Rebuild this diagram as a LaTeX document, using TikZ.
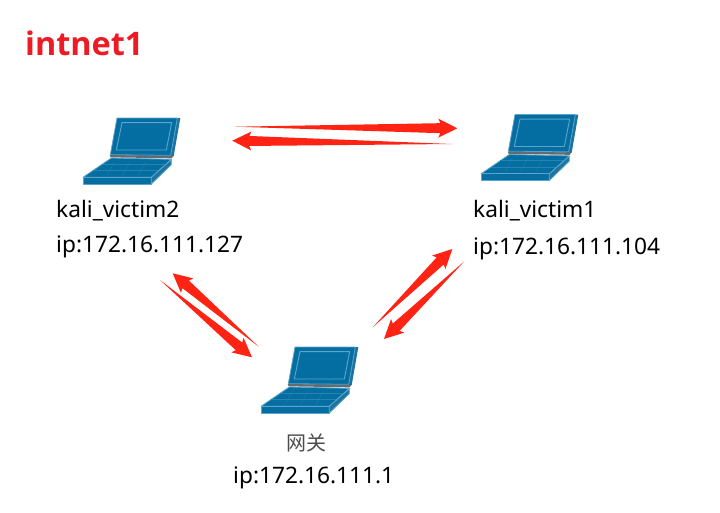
\documentclass[tikz,border=0pt]{standalone}
\usepackage{fontspec}
\setmainfont{Noto Sans}
\newfontfamily\cjkfont{Noto Sans CJK SC}
\newfontfamily\titlefont{Open Sans}
\usetikzlibrary{calc}
\definecolor{lapblue}{RGB}{4,110,162}
\definecolor{lapdark}{RGB}{30,115,160}
\definecolor{lapline}{RGB}{92,165,200}
\definecolor{hinge}{RGB}{100,108,112}
\definecolor{arrowred}{RGB}{255,35,20}
\definecolor{titlered}{RGB}{237,28,36}
\tikzset{
  lapshape/.style={fill=lapblue,draw=lapline,line width=.8pt,line join=round},
  labeltext/.style={anchor=west,inner sep=0pt,font=\fontsize{22.7}{25}\selectfont,text=black},
  laptop/.pic={
    \begin{scope}[x=.3333pt,y=-.3333pt]
      % lid
      \fill[lapdark] (105,0)--(292,0)--(272,115)--(85,112)--cycle;
      \path[lapshape] (102,0)--(283,0)--(263,112)--(82,110)--cycle;
      \draw[lapline,line width=.9pt] (117,14)--(266,14)--(250,96)--(100,96)--cycle;
      % base
      \path[lapshape] (0,178)--(85,120)--(265,124)--(205,178)--cycle;
      \foreach \t in {.25,.5,.75}
        \draw[lapline!40!lapblue,line width=.25pt] ($(40,152)!\t!(225,152)$) ++(8,-20) -- ++(-22,40);
      \draw[lapline!40!lapblue,line width=.25pt] (30,157)--(235,157) (58,137)--(250,137);
      % hinge
      \fill[hinge] (80,111)--(270,114)--(267,121)--(83,118)--cycle;
      \path[lapshape] (0,178)--(205,178)--(205,198)--(0,198)--cycle;
      \path[lapshape,fill=lapdark] (205,178)--(265,125)--(265,140)--(205,198)--cycle;
    \end{scope}
  }
}
\newcommand{\taperarrow}[2]{%
  \coordinate (hb) at ($(#2)!17pt!(#1)$);
  \fill[arrowred] (#1)
    -- ($(hb)!5pt!90:(#2)$)
    -- ($($(#2)!19pt!(#1)$)!9.5pt!90:(#2)$)
    -- (#2)
    -- ($($(#2)!19pt!(#1)$)!9.5pt!-90:(#2)$)
    -- ($(hb)!5pt!-90:(#2)$)
    -- cycle;}
\begin{document}
\begin{tikzpicture}[x=1pt,y=-1pt]
\useasboundingbox (0,0) rectangle (720,512);
\node[anchor=west,inner sep=0pt,font=\titlefont\bfseries\fontsize{32.4}{38}\selectfont,text=titlered] (title) at (25,43) {intnet1};

\pic (lapA) at (83,118) {laptop};
\pic (lapB) at (481,114.5) {laptop};
\pic (lapC) at (261,347) {laptop};

\node[labeltext] (nameA) at (56,210.5) {kali\_victim2};
\node[labeltext] (ipA) at (56,246.5) {ip:172.16.111.127};
\node[labeltext] (nameB) at (473,210.5) {kali\_victim1};
\node[labeltext] (ipB) at (473,248.5) {ip:172.16.111.104};
\node[anchor=center,inner sep=0pt,font=\cjkfont\fontsize{20}{22}\selectfont,text=black!70] (nameC) at (306,443) {网关};
\node[labeltext] (ipC) at (233,478) {ip:172.16.111.1};

\coordinate (a1) at (235,126.7);  \coordinate (b1) at (457.3,128.3);
\coordinate (a2) at (451.7,144);  \coordinate (b2) at (232.3,140.7);
\coordinate (a3) at (160,280);    \coordinate (b3) at (252,357.3);
\coordinate (a4) at (258.7,346.7);\coordinate (b4) at (172.7,273.3);
\coordinate (a5) at (372.7,327.3);\coordinate (b5) at (452.3,249);
\coordinate (a6) at (464.3,261.3);\coordinate (b6) at (384,339);
\taperarrow{a1}{b1}
\taperarrow{a2}{b2}
\taperarrow{a3}{b3}
\taperarrow{a4}{b4}
\taperarrow{a5}{b5}
\taperarrow{a6}{b6}
\end{tikzpicture}
\end{document}
